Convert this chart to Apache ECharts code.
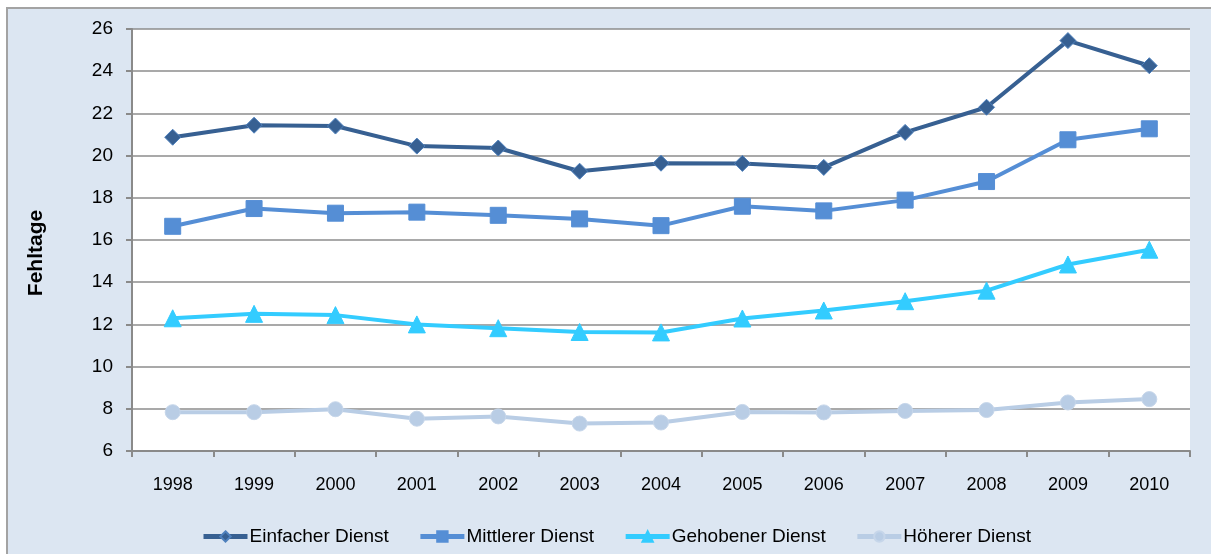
<!DOCTYPE html>
<html>
<head>
<meta charset="utf-8">
<script src="https://cdn.jsdelivr.net/npm/echarts@6/dist/echarts.min.js"></script>
<style>
  html, body { margin: 0; padding: 0; background: #ffffff; overflow: hidden; }
  #frame { position: absolute; left: 6px; top: 7px; width: 1220px; height: 560px;
           background: #dce6f2; border: 2px solid #a3a3a3; box-sizing: border-box; }
  #chart { position: absolute; left: 0; top: 0; width: 1211px; height: 554px; }
</style>
</head>
<body>
<div id="frame"></div>
<div id="chart"></div>
<script>
// Jahre (Kategorien)
const years = ['1998','1999','2000','2001','2002','2003','2004','2005','2006','2007','2008','2009','2010'];

// Durchschnittliche Fehltage je Laufbahngruppe
const einfacher  = [20.87, 21.44, 21.40, 20.45, 20.36, 19.26, 19.64, 19.63, 19.44, 21.10, 22.29, 25.45, 24.26];
const mittlerer  = [16.65, 17.49, 17.27, 17.32, 17.17, 17.00, 16.68, 17.60, 17.38, 17.89, 18.77, 20.75, 21.27];
const gehobener  = [12.29, 12.50, 12.44, 12.00, 11.82, 11.64, 11.62, 12.28, 12.66, 13.10, 13.60, 14.84, 15.54];
const hoeherer   = [7.84, 7.84, 7.98, 7.53, 7.64, 7.30, 7.35, 7.85, 7.83, 7.90, 7.94, 8.30, 8.46];

const seriesNames = ['Einfacher Dienst', 'Mittlerer Dienst', 'Gehobener Dienst', 'Höherer Dienst'];
const axisTitle = 'Fehltage';

const font = '"Liberation Sans", Arial, sans-serif';

function lineSeries(name, data, color, symbol, size, border) {
  return {
    name: name,
    type: 'line',
    data: data,
    symbol: symbol,
    symbolSize: size,
    showAllSymbol: true,
    lineStyle: { color: color, width: 4 },
    itemStyle: { color: color, borderColor: border, borderWidth: 1 },
    emphasis: { disabled: true },
    animation: false
  };
}

const chart = echarts.init(document.getElementById('chart'), null, { renderer: 'canvas' });

chart.setOption({
  backgroundColor: 'transparent',
  animation: false,
  textStyle: { fontFamily: font },
  grid: {
    left: 132, right: 21, top: 29, bottom: 103,
    show: true, backgroundColor: '#ffffff', borderWidth: 0
  },
  legend: {
    left: 196, top: 522,
    itemWidth: 44, itemHeight: 13, itemGap: 29,
    lineStyle: { width: 5 },
    textStyle: { fontFamily: font, fontSize: 19, color: '#000000', padding: [0, 0, 0, -3] },
    data: seriesNames
  },
  xAxis: {
    type: 'category',
    data: years,
    boundaryGap: true,
    axisLine: { show: true, lineStyle: { color: '#8a8a8a', width: 2 } },
    axisTick: { show: true, length: 6, interval: 0, lineStyle: { color: '#8a8a8a', width: 2 } },
    axisLabel: { margin: 25, fontSize: 18, color: '#000000', fontFamily: font, interval: 0 },
    splitLine: { show: false }
  },
  yAxis: {
    type: 'value',
    min: 6, max: 26, interval: 2,
    axisLine: { show: true, lineStyle: { color: '#8a8a8a', width: 2 } },
    axisTick: { show: true, length: 6, lineStyle: { color: '#8a8a8a', width: 2 } },
    axisLabel: { margin: 19, fontSize: 19, color: '#000000', fontFamily: font },
    splitLine: { show: true, lineStyle: { color: '#8c8c8c', width: 1.5 } }
  },
  graphic: [{
    type: 'text',
    x: 36, y: 253,
    rotation: Math.PI / 2,
    style: {
      text: axisTitle,
      fontFamily: font, fontSize: 21, fontWeight: 'bold',
      fill: '#000000', align: 'center', verticalAlign: 'middle'
    }
  }],
  series: [
    lineSeries(seriesNames[0], einfacher, '#376092', 'diamond', 16, '#4f81bd'),
    lineSeries(seriesNames[1], mittlerer, '#558ed5', 'rect', 16, '#558ed5'),
    lineSeries(seriesNames[2], gehobener, '#33ccff', 'triangle', 17, '#33ccff'),
    lineSeries(seriesNames[3], hoeherer, '#b9cde5', 'circle', 15, '#c6d6ea')
  ]
});
</script>
</body>
</html>
